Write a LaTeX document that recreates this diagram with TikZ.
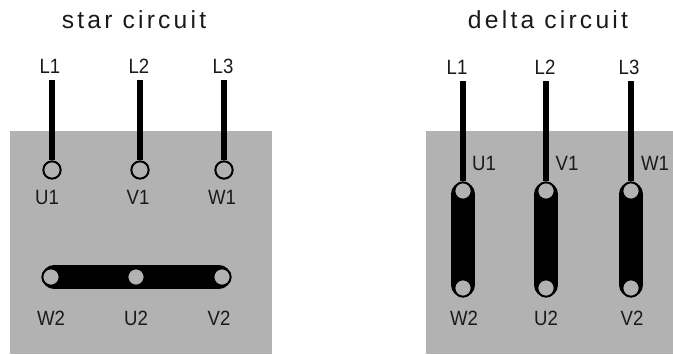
\documentclass[tikz,border=0pt]{standalone}
\usepackage{fontspec}
\setmainfont{Liberation Sans}
\usetikzlibrary{backgrounds}
\definecolor{couleurpanel}{HTML}{B2B2B2}
\definecolor{couleurtext}{HTML}{1A1A1A}
\tikzset{
		label/.style={inner sep=0pt, text=couleurtext, font=\addfontfeature{FakeStretch=0.9}\fontsize{15.5}{16}\selectfont},
		titre/.style={inner sep=0pt, text=couleurtext, font=\addfontfeature{LetterSpace=13}\fontsize{18.5}{19}\selectfont},
		borne/.style={circle, draw=black, line width=1.5pt, fill=couleurpanel, inner sep=0pt, minimum size=13pt},
		panel/.style={fill=couleurpanel},
		fil/.style={line width=4.5pt, shorten <=5pt},
		barre/.style={line width=18pt, line cap=round, shorten <=2.25pt, shorten >=2.25pt}
	}

\begin{document}
\begin{tikzpicture}[x=0.75pt, y=-0.75pt]
		\useasboundingbox (0,0) rectangle (673,354);
		% star
		\node[titre](titrestar) at (134,20){star circuit};
		\node[label](sl1) at (50,66){L1};
		\node[label](sl2) at (139,66){L2};
		\node[label](sl3) at (223,66){L3};
		\node[borne](su1) at (52,170){};
		\node[borne](sv1) at (140,170){};
		\node[borne](sw1) at (224,170){};
		\node[label](su1t) at (47,197){U1};
		\node[label](sv1t) at (138,197){V1};
		\node[label](sw1t) at (222,197){W1};
		\node[borne](sw2) at (51,277){};
		\node[borne](su2) at (136,277){};
		\node[borne](sv2) at (222,277){};
		\node[label](sw2t) at (51,318){W2};
		\node[label](su2t) at (136,318){U2};
		\node[label](sv2t) at (219,318){V2};
		% delta
		\node[titre](titredelta) at (548,20){delta circuit};
		\node[label](dl1) at (457,67){L1};
		\node[label](dl2) at (545,67){L2};
		\node[label](dl3) at (629,67){L3};
		\node[label](du1t) at (484,163){U1};
		\node[label](dv1t) at (567,163){V1};
		\node[label](dw1t) at (655,163){W1};
		\node[borne](du1) at (463,191){};
		\node[borne](dv1) at (546,191){};
		\node[borne](dw1) at (631,191){};
		\node[borne](dw2) at (463,288){};
		\node[borne](du2) at (546,288){};
		\node[borne](dv2) at (631,288){};
		\node[label](dw2t) at (464,318){W2};
		\node[label](du2t) at (546,318){U2};
		\node[label](dv2t) at (632,318){V2};
		\begin{scope}[on background layer]
			\fill[panel] (10,131) rectangle (272,354);
			\fill[panel] (426,131) rectangle (673,354);
			% star
			\draw[fil] (sl1.south -| su1) -- (su1);
			\draw[fil] (sl2.south -| sv1) -- (sv1);
			\draw[fil] (sl3.south -| sw1) -- (sw1);
			\draw[barre] (sw2.center) -- (sv2.center);
			% delta
			\draw[fil] (dl1.south -| du1) -- (du1);
			\draw[fil] (dl2.south -| dv1) -- (dv1);
			\draw[fil] (dl3.south -| dw1) -- (dw1);
			\draw[barre] (du1.center) -- (dw2.center);
			\draw[barre] (dv1.center) -- (du2.center);
			\draw[barre] (dw1.center) -- (dv2.center);
		\end{scope}
	\end{tikzpicture}
\end{document}
